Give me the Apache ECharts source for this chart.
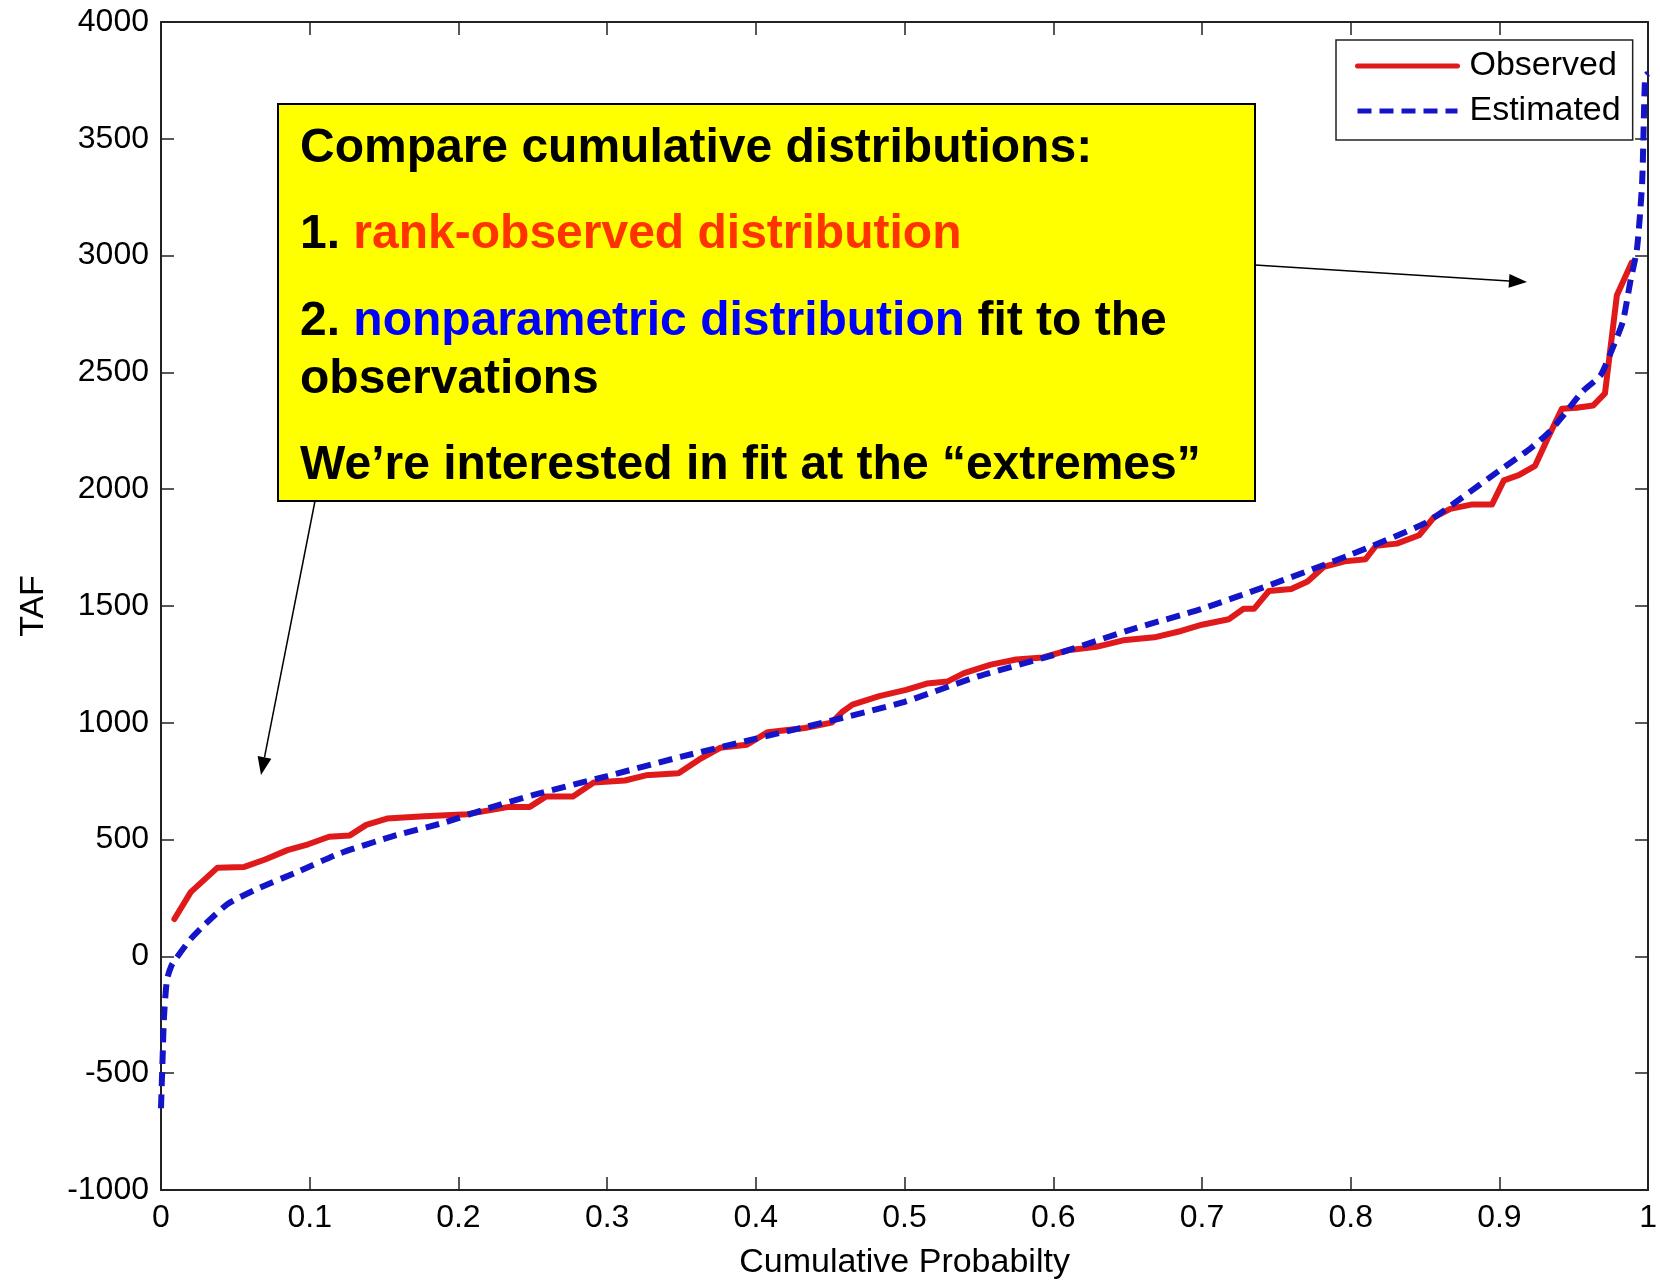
<!DOCTYPE html>
<html>
<head>
<meta charset="utf-8">
<script src="https://cdn.jsdelivr.net/npm/echarts@6/dist/echarts.min.js"></script>
<style>html,body{margin:0;padding:0;background:#fff}#c{width:1660px;height:1285px}</style>
</head>
<body>
<div id="c"></div>
<script>
// ---- data ----
var obsP = [0.009, 0.02, 0.038, 0.056, 0.07, 0.085, 0.099, 0.113, 0.127, 0.138, 0.152, 0.177, 0.206, 0.234, 0.248, 0.259, 0.277, 0.291, 0.312, 0.326, 0.348, 0.362, 0.376, 0.394, 0.408, 0.433, 0.451, 0.458, 0.465, 0.483, 0.501, 0.515, 0.529, 0.540, 0.558, 0.575, 0.593, 0.611, 0.629, 0.647, 0.668, 0.686, 0.700, 0.718, 0.728, 0.735, 0.745, 0.760, 0.771, 0.782, 0.796, 0.810, 0.817, 0.831, 0.846, 0.856, 0.867, 0.881, 0.895, 0.903, 0.913, 0.924, 0.933, 0.942, 0.952, 0.963, 0.971, 0.975, 0.979, 0.989];
var obsV = [160, 275, 380, 383, 415, 455, 480, 512, 518, 563, 590, 600, 609, 640, 640, 685, 685, 744, 753, 775, 784, 843, 893, 906, 960, 978, 1001, 1046, 1078, 1114, 1141, 1168, 1177, 1213, 1249, 1271, 1280, 1312, 1325, 1353, 1366, 1393, 1420, 1443, 1488, 1488, 1564, 1573, 1605, 1668, 1691, 1700, 1758, 1767, 1803, 1880, 1916, 1934, 1934, 2038, 2060, 2100, 2225, 2344, 2349, 2358, 2410, 2620, 2830, 2970];
var estP = [0, 0.001, 0.002, 0.004, 0.007, 0.01, 0.02, 0.03, 0.045, 0.065, 0.09, 0.12, 0.155, 0.19, 0.22, 0.25, 0.3, 0.35, 0.4, 0.45, 0.5, 0.55, 0.6, 0.65, 0.7, 0.75, 0.8, 0.85, 0.874, 0.9, 0.921, 0.934, 0.943, 0.956, 0.968, 0.976, 0.983, 0.988, 0.9925, 0.996, 0.998, 1.0];
var estV = [-650, -450, -260, -100, -40, -10, 75, 140, 225, 290, 357, 440, 513, 572, 634, 690, 772, 855, 932, 1008, 1090, 1200, 1290, 1395, 1488, 1600, 1720, 1855, 1960, 2080, 2175, 2248, 2316, 2419, 2487, 2602, 2717, 2887, 3028, 3314, 3766, 3780];
var xTicks = ['0', '0.1', '0.2', '0.3', '0.4', '0.5', '0.6', '0.7', '0.8', '0.9', '1'];
var seriesNames = ['Observed', 'Estimated'];
var xTitle = 'Cumulative Probabilty';
var yTitle = 'TAF';

function pairs(xs, ys) { return xs.map(function (x, i) { return [x, ys[i]]; }); }

var FONT = '"Liberation Sans", Arial, sans-serif';

function arrow(x1, y1, x2, y2) {
  var dx = x2 - x1, dy = y2 - y1, L = Math.sqrt(dx * dx + dy * dy);
  var ux = dx / L, uy = dy / L, hl = 18, hw = 7;
  var bx = x2 - ux * hl, by = y2 - uy * hl;
  return [
    { type: 'line', z: 100, shape: { x1: x1, y1: y1, x2: bx, y2: by }, style: { stroke: '#000', lineWidth: 1.5 } },
    { type: 'polygon', z: 100, shape: { points: [[x2, y2], [bx - uy * hw, by + ux * hw], [bx + uy * hw, by - ux * hw]] }, style: { fill: '#000' } }
  ];
}

var FS = 48;
var boxX = 278, boxY = 104;
var rich = {
  r: { fill: '#ff3300', fontFamily: FONT, fontWeight: 'bold', fontSize: FS },
  b: { fill: '#0000ff', fontFamily: FONT, fontWeight: 'bold', fontSize: FS }
};
function line(y, text) {
  return { type: 'text', z: 101, left: 300, top: y - 21, style: { text: text, fontFamily: FONT, fontWeight: 'bold', fontSize: FS, fill: '#000', rich: rich } };
}

var graphics = [
  { type: 'rect', z: 99, shape: { x: boxX, y: boxY, width: 977, height: 397 }, style: { fill: '#ffff00', stroke: '#000', lineWidth: 2 } },
  line(146, 'Compare cumulative distributions:'),
  line(232, '1. {r|rank-observed distribution}'),
  line(319, '2. {b|nonparametric distribution} fit to the'),
  line(377, 'observations'),
  line(463, 'We\u2019re interested in fit at the \u201Cextremes\u201D')
].concat(arrow(1255, 265, 1527, 282)).concat(arrow(315, 501, 261, 775));

var chart = echarts.init(document.getElementById('c'), null, { renderer: 'canvas' });
var axisLine = { show: true, onZero: false, lineStyle: { color: '#222', width: 2 } };
var tick = { show: true, inside: true, length: 13, lineStyle: { color: '#222', width: 1.5 } };
chart.setOption({
  animation: false,
  backgroundColor: '#fff',
  grid: { left: 161, right: 11, top: 22, bottom: 91 },
  legend: {
    data: seriesNames,
    orient: 'vertical',
    left: 1336, top: 40,
    backgroundColor: '#fff',
    borderColor: '#222', borderWidth: 1.5, borderRadius: 0,
    padding: [8, 12, 11, 19],
    itemWidth: 100, itemHeight: 14, itemGap: 9,
    itemStyle: { opacity: 0 },
    lineStyle: { width: 5 },
    textStyle: { fontFamily: FONT, fontSize: 34, color: '#000', lineHeight: 36, padding: [0, 0, 0, 7] }
  },
  xAxis: [{
    type: 'value', min: 0, max: 1, interval: 0.1,
    axisLine: axisLine, axisTick: tick, splitLine: { show: false },
    axisLabel: { fontFamily: FONT, fontSize: 32, color: '#000', margin: 12, formatter: function (v) { return xTicks[Math.round(v * 10)]; } },
    name: xTitle, nameLocation: 'middle', nameGap: 56,
    nameTextStyle: { fontFamily: FONT, fontSize: 34, color: '#000' }
  }, {
    type: 'value', min: 0, max: 1, interval: 0.1, position: 'top',
    axisLine: axisLine, axisTick: tick, splitLine: { show: false }, axisLabel: { show: false }
  }],
  yAxis: [{
    type: 'value', min: -1000, max: 4000, interval: 500,
    axisLine: axisLine, axisTick: tick, splitLine: { show: false },
    axisLabel: { fontFamily: FONT, fontSize: 32, color: '#000', margin: 12, formatter: function (v) { return String(v); } },
    name: yTitle, nameLocation: 'middle', nameGap: 110,
    nameTextStyle: { fontFamily: FONT, fontSize: 34, color: '#000' }
  }, {
    type: 'value', min: -1000, max: 4000, interval: 500, position: 'right',
    axisLine: axisLine, axisTick: tick, splitLine: { show: false }, axisLabel: { show: false }
  }],
  series: [{
    name: seriesNames[0], type: 'line', data: pairs(obsP, obsV),
    showSymbol: false, symbol: 'none', smooth: false,
    lineStyle: { color: '#e01a1a', width: 6, join: 'round', cap: 'round' },
    itemStyle: { color: '#e01a1a' }, z: 3
  }, {
    name: seriesNames[1], type: 'line', data: pairs(estP, estV),
    showSymbol: false, symbol: 'none', smooth: 0.2,
    lineStyle: { color: '#1414c8', width: 6, type: [14, 8] },
    itemStyle: { color: '#1414c8' }, z: 4
  }],
  graphic: graphics
});
</script>
</body>
</html>
